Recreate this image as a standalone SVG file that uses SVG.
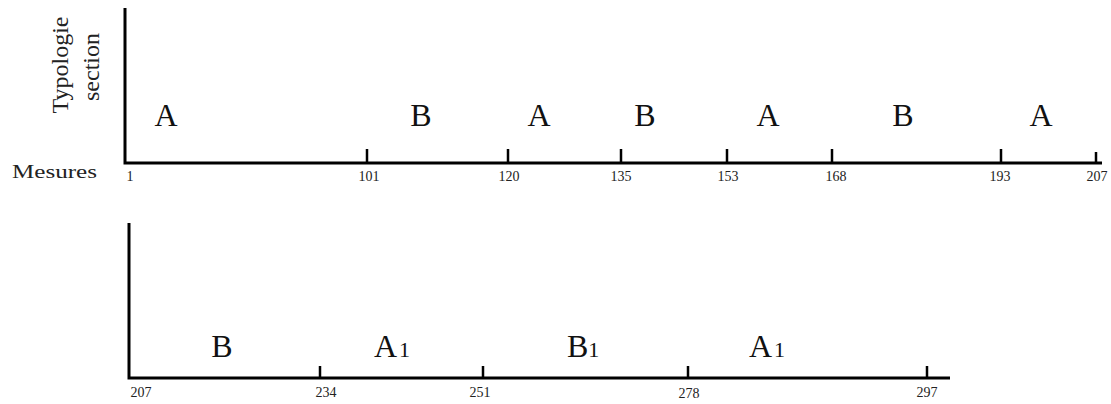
<svg xmlns="http://www.w3.org/2000/svg" width="1111" height="404" viewBox="0 0 1111 404">
<style>
.ax{stroke:#000;stroke-width:3;fill:none}
.tk{stroke:#000;stroke-width:2.5}
.num{font-family:"Liberation Serif",serif;font-size:14px;fill:#222;text-anchor:middle}
.sec{font-family:"Liberation Serif",serif;font-size:32px;fill:#111;text-anchor:middle}
.secl{font-family:"Liberation Serif",serif;font-size:32px;fill:#111}
.sub{font-size:22px}
.lab{font-family:"Liberation Serif",serif;font-size:24px;fill:#222;text-anchor:middle}
</style>
<rect width="1111" height="404" fill="#fff"/>
<g id="labels">
<text class="lab" transform="translate(68,65) rotate(-90)">Typologie</text>
<text class="lab" transform="translate(99,67) rotate(-90)">section</text>
<text x="12" y="178" font-family="Liberation Serif,serif" font-size="19" fill="#222" textLength="85" lengthAdjust="spacingAndGlyphs">Mesures</text>
</g>
<g id="axes">
<polyline class="ax" points="125,8 125,163 1102,163"/>
<polyline class="ax" points="129,223 129,378 950,378"/>
</g>
<g id="ticks">
<line class="tk" x1="367" y1="149" x2="367" y2="163"/>
<line class="tk" x1="508" y1="149" x2="508" y2="163"/>
<line class="tk" x1="621" y1="149" x2="621" y2="163"/>
<line class="tk" x1="727" y1="149" x2="727" y2="163"/>
<line class="tk" x1="832" y1="149" x2="832" y2="163"/>
<line class="tk" x1="1001" y1="149" x2="1001" y2="163"/>
<line class="tk" x1="1096" y1="152" x2="1096" y2="163"/>
<line class="tk" x1="320" y1="366" x2="320" y2="378"/>
<line class="tk" x1="483" y1="366" x2="483" y2="378"/>
<line class="tk" x1="688" y1="366" x2="688" y2="378"/>
<line class="tk" x1="927" y1="366" x2="927" y2="378"/>
</g>
<g id="measures-top">
<text class="num" x="130" y="181">1</text>
<text class="num" x="369" y="181">101</text>
<text class="num" x="509" y="181">120</text>
<text class="num" x="621" y="181">135</text>
<text class="num" x="728" y="181">153</text>
<text class="num" x="836" y="181">168</text>
<text class="num" x="1000" y="181">193</text>
<text class="num" x="1097" y="181">207</text>
</g>
<g id="measures-bottom">
<text class="num" x="141" y="397">207</text>
<text class="num" x="326" y="397">234</text>
<text class="num" x="480" y="397">251</text>
<text class="num" x="689" y="398">278</text>
<text class="num" x="927" y="397">297</text>
</g>
<g id="sections-top">
<text class="sec" x="166" y="126">A</text>
<text class="sec" x="421" y="126">B</text>
<text class="sec" x="539" y="126">A</text>
<text class="sec" x="645" y="126">B</text>
<text class="sec" x="768" y="126">A</text>
<text class="sec" x="903" y="126">B</text>
<text class="sec" x="1041" y="126">A</text>
</g>
<g id="sections-bottom">
<text class="sec" x="222" y="357">B</text>
<text class="secl" x="374" y="357">A<tspan class="sub" dx="2">1</tspan></text>
<text class="secl" x="567" y="357">B<tspan class="sub" dx="0">1</tspan></text>
<text class="secl" x="749" y="357">A<tspan class="sub" dx="2">1</tspan></text>
</g>
</svg>
